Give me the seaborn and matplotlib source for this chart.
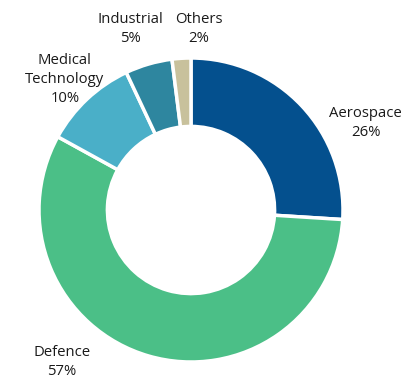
import matplotlib
matplotlib.use("Agg")
import matplotlib.pyplot as plt
import seaborn as sns

categories = ["Aerospace", "Defence", "Medical\nTechnology", "Industrial", "Others"]
shares = [26, 57, 10, 5, 2]
colors = ["#04508E", "#4BBF87", "#4AAFC8", "#2E869F", "#C8C19C"]
label_pos = [(1.15, 0.57), (-0.85, -1.0), (-0.83, 0.86), (-0.40, 1.19), (0.05, 1.19)]

sns.set_theme(style="white")
plt.rcParams['font.family'] = ['Open Sans', 'DejaVu Sans']

fig = plt.figure(figsize=(4.10, 3.85), dpi=100)
ax = fig.add_axes([0, 0, 1, 1])
ax.pie(shares, colors=colors, startangle=90, counterclock=False,
       radius=1.0, wedgeprops=dict(width=0.45, edgecolor="white", linewidth=2.5))
for cat, val, (x, y) in zip(categories, shares, label_pos):
    ax.text(x, y, f"{cat}\n{val}%", ha="center", va="center", fontsize=10.7,
            color="#1a1a1a", linespacing=1.35)
ax.set_xlim(-191/152, (410-191)/152)
ax.set_ylim(-(385-210)/152, 210/152)
ax.set_aspect("auto")
ax.axis("off")
fig.savefig("out.png", dpi=100)
